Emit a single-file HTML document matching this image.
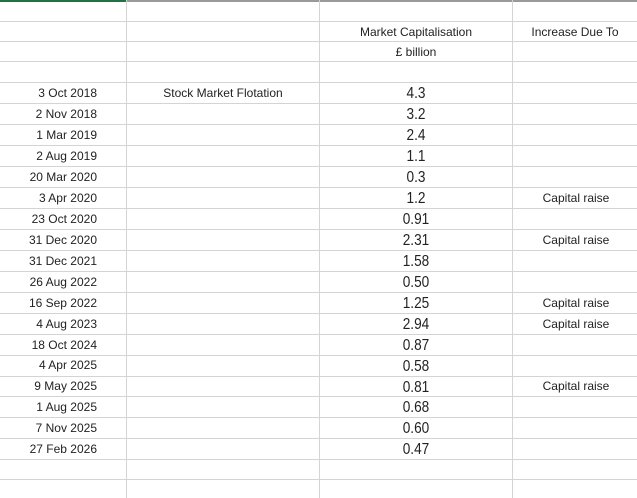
<!DOCTYPE html>
<html><head><meta charset="utf-8"><style>
body{margin:0;width:637px;height:498px;background:#fff;position:relative;overflow:hidden;font-family:"Liberation Sans",sans-serif;}
.h{position:absolute;left:0;width:637px;height:1px;background:#d4d4d4}
.v{position:absolute;top:0;width:1px;height:498px;background:#d4d4d4}
.d{position:absolute;left:0;width:97px;text-align:right;font-size:12px;color:#222;line-height:20px}
.n{position:absolute;left:356px;width:120px;text-align:center;font-size:15.5px;color:#222;line-height:20px;transform:scaleX(0.88);margin-top:2px}
.c{position:absolute;left:515px;width:122px;text-align:center;font-size:12px;color:#222;line-height:20px}
.t{position:absolute;font-size:12px;color:#222;line-height:20px;text-align:center}
</style></head><body>
<div style="position:absolute;left:0;top:0;width:637px;height:2px;background:#9a9a9a"></div>
<div style="position:absolute;left:0;top:0;width:127px;height:2px;background:#217346"></div>
<div class="v" style="left:126px"></div><div class="v" style="left:319px"></div><div class="v" style="left:512px"></div>
<div class="h" style="top:21px"></div><div class="h" style="top:41px"></div><div class="h" style="top:61px"></div>
<div class="h" style="top:82px"></div><div class="h" style="top:103px"></div><div class="h" style="top:124px"></div><div class="h" style="top:145px"></div><div class="h" style="top:166px"></div><div class="h" style="top:187px"></div><div class="h" style="top:208px"></div><div class="h" style="top:229px"></div><div class="h" style="top:250px"></div><div class="h" style="top:271px"></div><div class="h" style="top:292px"></div><div class="h" style="top:313px"></div><div class="h" style="top:334px"></div><div class="h" style="top:355px"></div><div class="h" style="top:376px"></div><div class="h" style="top:396px"></div><div class="h" style="top:417px"></div><div class="h" style="top:438px"></div><div class="h" style="top:459px"></div><div class="h" style="top:479px"></div>
<div class="t" style="left:320px;width:192px;top:22px">Market Capitalisation</div>
<div class="t" style="left:320px;width:192px;top:42px">£ billion</div>
<div class="t" style="left:513px;width:124px;top:22px">Increase Due To</div>
<div class="t" style="left:127px;width:192px;top:83px">Stock Market Flotation</div>

<div class="d" style="top:83px">3 Oct 2018</div><div class="n" style="top:82px">4.3</div>
<div class="d" style="top:104px">2 Nov 2018</div><div class="n" style="top:103px">3.2</div>
<div class="d" style="top:125px">1 Mar 2019</div><div class="n" style="top:124px">2.4</div>
<div class="d" style="top:146px">2 Aug 2019</div><div class="n" style="top:145px">1.1</div>
<div class="d" style="top:167px">20 Mar 2020</div><div class="n" style="top:166px">0.3</div>
<div class="d" style="top:188px">3 Apr 2020</div><div class="n" style="top:187px">1.2</div><div class="c" style="top:188px">Capital raise</div>
<div class="d" style="top:209px">23 Oct 2020</div><div class="n" style="top:208px">0.91</div>
<div class="d" style="top:230px">31 Dec 2020</div><div class="n" style="top:229px">2.31</div><div class="c" style="top:230px">Capital raise</div>
<div class="d" style="top:251px">31 Dec 2021</div><div class="n" style="top:250px">1.58</div>
<div class="d" style="top:272px">26 Aug 2022</div><div class="n" style="top:271px">0.50</div>
<div class="d" style="top:293px">16 Sep 2022</div><div class="n" style="top:292px">1.25</div><div class="c" style="top:293px">Capital raise</div>
<div class="d" style="top:314px">4 Aug 2023</div><div class="n" style="top:313px">2.94</div><div class="c" style="top:314px">Capital raise</div>
<div class="d" style="top:335px">18 Oct 2024</div><div class="n" style="top:334px">0.87</div>
<div class="d" style="top:355px">4 Apr 2025</div><div class="n" style="top:355px">0.58</div>
<div class="d" style="top:376px">9 May 2025</div><div class="n" style="top:376px">0.81</div><div class="c" style="top:376px">Capital raise</div>
<div class="d" style="top:397px">1 Aug 2025</div><div class="n" style="top:396px">0.68</div>
<div class="d" style="top:418px">7 Nov 2025</div><div class="n" style="top:417px">0.60</div>
<div class="d" style="top:439px">27 Feb 2026</div><div class="n" style="top:438px">0.47</div>
</body></html>
